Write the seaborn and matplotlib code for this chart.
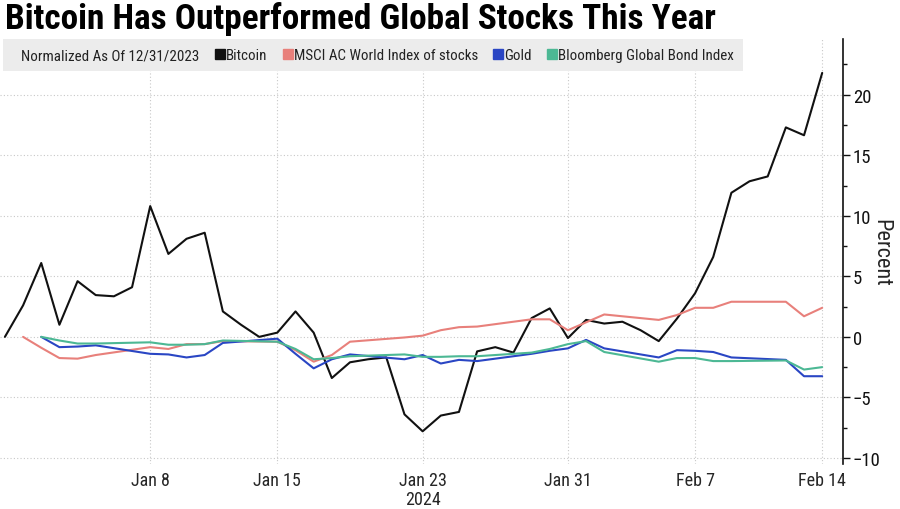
import pandas as pd
import numpy as np
import matplotlib
matplotlib.use("Agg")
import matplotlib.pyplot as plt
from matplotlib import font_manager as fm
from matplotlib.lines import Line2D
from matplotlib.ticker import MultipleLocator
import seaborn as sns

# -----------------------------
# Data (percent change, normalized as of 12/31/2023)
# -----------------------------
btc_dates = pd.date_range("2023-12-31", "2024-02-14", freq="D")
bitcoin = [0.0, 2.6, 6.1, 1.0, 4.6, 3.45, 3.35, 4.1, 10.8, 6.85,
           8.1, 8.6, 2.1, 1.0, 0.0, 0.35, 2.1, 0.35, -3.4, -2.1,
           -1.85, -1.7, -6.4, -7.8, -6.5, -6.2, -1.2, -0.85, -1.3, 1.55,
           2.35, -0.1, 1.4, 1.1, 1.25, 0.55, -0.35, 1.5, 3.6, 6.6,
           11.9, 12.85, 13.25, 17.3, 16.65, 21.8]

# weekdays Jan 1 .. Feb 14
mkt_dates = pd.bdate_range("2024-01-01", "2024-02-14")
msci = [0.0, -0.9, -1.75, -1.8, -1.5, -0.85, -1.0, -0.6, -0.6, -0.35,
        -0.4, -1.1, -2.05, -1.5, -0.4, -0.05, 0.1, 0.55, 0.8, 0.85,
        1.45, 1.45, 0.55, 1.2, 1.85, 1.4, 1.8, 2.4, 2.4, 2.9,
        2.9, 1.7, 2.4]
gold = [np.nan, 0.0, -0.85, -0.8, -0.7, -1.4, -1.45, -1.7, -1.5, -0.5,
        -0.15, -1.4, -2.6, -1.85, -1.45, -1.85, -1.5, -2.2, -1.9, -2.0,
        -1.4, -1.15, -0.95, -0.25, -0.95, -1.7, -1.1, -1.15, -1.25, -1.7,
        -1.9, -3.25, -3.25]
bonds = [np.nan, 0.0, -0.3, -0.55, -0.55, -0.45, -0.65, -0.65, -0.6, -0.3,
         -0.4, -1.0, -1.85, -1.75, -1.6, -1.45, -1.65, -1.65, -1.6, -1.6,
         -1.3, -1.0, -0.6, -0.35, -1.25, -2.05, -1.75, -1.75, -2.0, -2.0,
         -1.95, -2.7, -2.5]

series_names = ["Bitcoin", "MSCI AC World Index of stocks", "Gold",
                "Bloomberg Global Bond Index"]
series_colors = ["#111111", "#e8807b", "#2a46c4", "#4cb894"]

tick_dates = ["2024-01-08", "2024-01-15", "2024-01-23", "2024-01-31",
              "2024-02-07", "2024-02-14"]
tick_labels = ["Jan 8", "Jan 15", "Jan 23\n2024", "Jan 31", "Feb 7", "Feb 14"]

# long-form table for seaborn
df = pd.concat([
    pd.DataFrame({"date": btc_dates, "value": bitcoin, "series": series_names[0]}),
    pd.DataFrame({"date": mkt_dates, "value": msci, "series": series_names[1]}),
    pd.DataFrame({"date": mkt_dates, "value": gold, "series": series_names[2]}),
    pd.DataFrame({"date": mkt_dates, "value": bonds, "series": series_names[3]}),
]).dropna()

# -----------------------------
# Font: prefer a narrow face (Bloomberg style), else plain sans
# -----------------------------
sns.set_style("white")
entries = fm.fontManager.ttflist
names = {f.name for f in entries}
narrow, stretch = None, "normal"
for cand in ["Liberation Sans Narrow", "Roboto Condensed", "Open Sans Condensed",
             "Noto Sans Condensed", "DejaVu Sans Condensed", "Noto Sans SemiCondensed"]:
    if cand in names:
        narrow = cand
        break
if narrow is None:
    for f in entries:
        if str(f.stretch) in ("condensed", "semi-condensed", "extra-condensed") \
                and f.name in ("DejaVu Sans", "Noto Sans", "Roboto", "Open Sans", "Liberation Sans"):
            narrow, stretch = f.name, str(f.stretch)
            break
if narrow is None:
    narrow = "DejaVu Sans"
plt.rcParams["font.family"] = [narrow, "DejaVu Sans"]
plt.rcParams["font.stretch"] = stretch
is_narrow = narrow != "DejaVu Sans" or stretch != "normal"

# -----------------------------
# Plot
# -----------------------------
fig = plt.figure(figsize=(9, 5.1), dpi=100)
ax = fig.add_axes([0, 45 / 510, 843 / 900, 425 / 510])

sns.lineplot(data=df, x="date", y="value", hue="series",
             hue_order=series_names, palette=series_colors,
             estimator=None, linewidth=1.5, legend=False, ax=ax)

ax.set_xlim(pd.Timestamp("2023-12-31") - pd.Timedelta(hours=6.5),
            pd.Timestamp("2024-02-14") + pd.Timedelta(hours=27.5))
ax.set_ylim(-10.5, 24.6)

tick_fs = 13 if is_narrow else 12
ax.set_xticks(pd.to_datetime(tick_dates))
ax.set_xticklabels(tick_labels)
ax.tick_params(axis="x", length=0, labelsize=tick_fs, pad=5)
for lab in ax.get_xticklabels():
    lab.set_linespacing(1.05)

ax.yaxis.tick_right()
ax.yaxis.set_label_position("right")
ax.set_yticks(range(-10, 21, 5))
ax.yaxis.set_minor_locator(MultipleLocator(2.5))
ax.tick_params(axis="y", which="major", length=5, width=1, labelsize=tick_fs + 0.5,
               pad=2, direction="out", colors="#111111")
ax.tick_params(axis="y", which="minor", length=3, width=1, direction="out",
               colors="#111111")
ax.set_ylabel("Percent", rotation=270, fontsize=16, labelpad=8)
ax.set_xlabel("")

for side in ["left", "top", "bottom"]:
    ax.spines[side].set_visible(False)
ax.spines["right"].set_color("#111111")
ax.spines["right"].set_linewidth(1.2)

ax.grid(True, which="major", linestyle=(0, (1, 2)), color="#c8c8c8", linewidth=0.8)

# legend strip
handles = [Line2D([], [], ls="none")]
for c in series_colors:
    handles.append(Line2D([], [], ls="none", marker="s", markersize=7, color=c))
labels = ["Normalized As Of 12/31/2023"] + series_names


def make_legend(fs):
    lg = ax.legend(handles, labels, loc="upper left", bbox_to_anchor=(0.003, 1.0),
                   ncol=5, frameon=True, facecolor="#ececec", edgecolor="none",
                   framealpha=1, fancybox=False, handlelength=0.5,
                   handletextpad=0.15, columnspacing=1.1, borderpad=0.6,
                   borderaxespad=0.0, fontsize=fs)
    for t in lg.get_texts():
        t.set_color("#222222")
    return lg


title = fig.text(5 / 900, 1 - 19 / 510, "Bitcoin Has Outperformed Global Stocks This Year",
                 fontsize=22, fontweight="bold", va="center", ha="left", color="#000000")

# fit title and legend strip to the reference widths
leg_fs = 11.5
leg = make_legend(leg_fs)
renderer = fig.canvas.get_renderer()
for _ in range(3):
    w = title.get_window_extent(renderer).width
    title.set_fontsize(title.get_fontsize() * 710 / w)
    lw = leg.get_window_extent(renderer).width
    leg_fs = leg_fs * 742 / lw
    leg = make_legend(leg_fs)

plt.savefig("out.png", dpi=100)
plt.close()
